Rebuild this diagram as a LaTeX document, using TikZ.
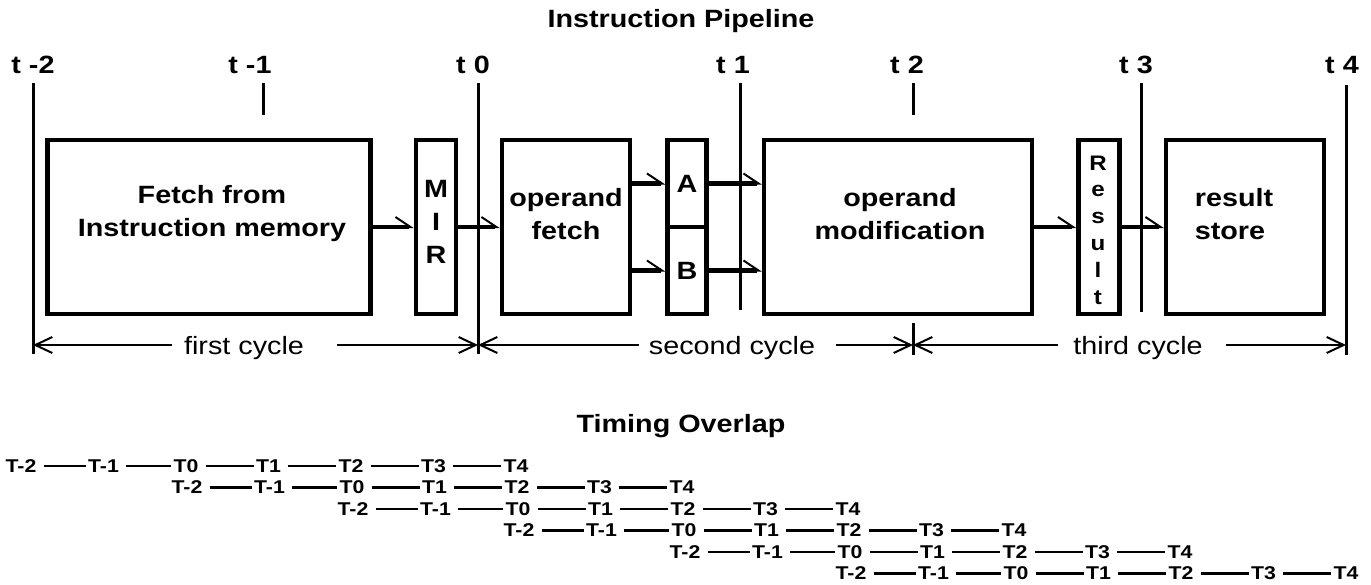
\documentclass[tikz,border=0pt]{standalone}
\usepackage{fontspec}
\setmainfont{Liberation Sans}[FakeStretch=1.15]
\usetikzlibrary{arrows.meta}

\begin{document}
\begin{tikzpicture}[x=1pt,y=-1pt,
  stage/.style={draw,line width=4.5pt,inner sep=0pt,minimum height=174pt,
    font=\fontsize{25}{32}\selectfont\bfseries},
  big/.style={font=\fontsize{25}{33}\selectfont\bfseries,align=center,inner sep=0pt},
  cyc/.style={font=\fontsize{25}{28}\selectfont,inner sep=0pt},
  tick/.style={line width=3pt},
  flow/.style={line width=4.5pt,-{Straight Barb[harpoon,line width'=2pt,length=15pt,width=20pt]}},
  dim/.style={line width=2pt,-{Straight Barb[line width'=2pt,length=17pt,width=16pt]}},
  slot/.style={font=\fontsize{18.5}{20}\selectfont\bfseries,inner sep=2pt},
  link/.style={line width=2.7pt,shorten <=5pt}]
\useasboundingbox (0,0) rectangle (1371,584);

% titles
\node[big] (ttl) at (681,21) {Instruction Pipeline};
\node[big] (ovl) at (681,426) {Timing Overlap};

% time marks
\node[big] (tm2) at (33,65) {t -2};
\node[big] (tm1) at (250,65) {t -1};
\node[big] (t0) at (473,65) {t 0};
\node[big] (t1) at (733,65) {t 1};
\node[big] (t2) at (907,65) {t 2};
\node[big] (t3) at (1136,65) {t 3};
\node[big] (t4) at (1342,65) {t 4};
\draw[tick] (33,83) -- (33,354);
\draw[tick] (263,83) -- (263,115);
\draw[tick] (478,83) -- (478,354);
\draw[tick] (740,83) -- (740,310);
\draw[tick] (913,83) -- (913,115);
\draw[tick] (913,323) -- (913,355);
\draw[tick] (1141,83) -- (1141,312);
\draw[tick] (1346,85) -- (1346,355);

% stages
\node[stage,minimum width=323pt] (fetch) at (209,227) {};
\node[stage,minimum width=40pt] (mir) at (436,227) {};
\node[stage,minimum width=128pt] (opf) at (566,227) {};
\node[stage,minimum width=39pt,minimum height=87pt] (rega) at (687,183.5) {A};
\node[stage,minimum width=39pt,minimum height=87pt] (regb) at (687,270.5) {B};
\node[stage,minimum width=268pt] (mod) at (898,227) {};
\node[stage,minimum width=41pt] (res) at (1099,227) {};
\node[stage,minimum width=158pt] (store) at (1245,227) {};

\node[big] (fetchtxt) at (212,214) {Fetch from\\Instruction memory};
\node[big] (mirtxt) at (436,222) {M\\I\\R};
\node[big] (opftxt) at (566,214) {operand\\fetch};
\node[big] (modtxt) at (900,214) {operand\\modification};
\node[big,font=\fontsize{21}{26.8}\selectfont\bfseries] (restxt) at (1098,230) {R\\e\\s\\u\\l\\t};
\node[big,align=left] (storetxt) at (1234,214) {result\\store};

% data flow
\draw[flow] (fetch) -- (mir);
\draw[flow] (mir) -- (opf);
\draw[flow] (opf.east |- rega) -- (rega);
\draw[flow] (opf.east |- regb) -- (regb);
\draw[flow] (rega) -- (rega -| mod.west);
\draw[flow] (regb) -- (regb -| mod.west);
\draw[flow] (mod) -- (res);
\draw[flow] (res) -- (store);

% cycles
\coordinate (d0) at (33,345);
\coordinate (d1) at (478,345);
\coordinate (d2) at (913,345);
\coordinate (d3) at (1346,345);
\node[cyc] (cyc1) at (244,348) {first cycle};
\node[cyc] (cyc2) at (732,348) {second cycle};
\node[cyc] (cyc3) at (1138,348) {third cycle};
\draw[dim] ([xshift=-12pt]cyc1.west |- d0) -- (d0);
\draw[dim] ([xshift=33pt]cyc1.east |- d1) -- (d1);
\draw[dim] ([xshift=-10pt]cyc2.west |- d1) -- (d1);
\draw[dim] ([xshift=21pt]cyc2.east |- d2) -- (d2);
\draw[dim] ([xshift=-15pt]cyc3.west |- d2) -- (d2);
\draw[dim] ([xshift=23pt]cyc3.east |- d3) -- (d3);

% timing overlap
\foreach \r in {0,...,5} {
  \foreach \j/\lab in {0/T-2,1/T-1,2/T0,3/T1,4/T2,5/T3,6/T4}
    \node[slot] (s\r-\j) at ({21+166*\r+82.5*\j},{466+21.5*\r}) {\lab};
  \foreach \j [count=\k from 1] in {0,...,5}
    \draw[link] (s\r-\j) -- (s\r-\k);
}
\end{tikzpicture}
\end{document}
